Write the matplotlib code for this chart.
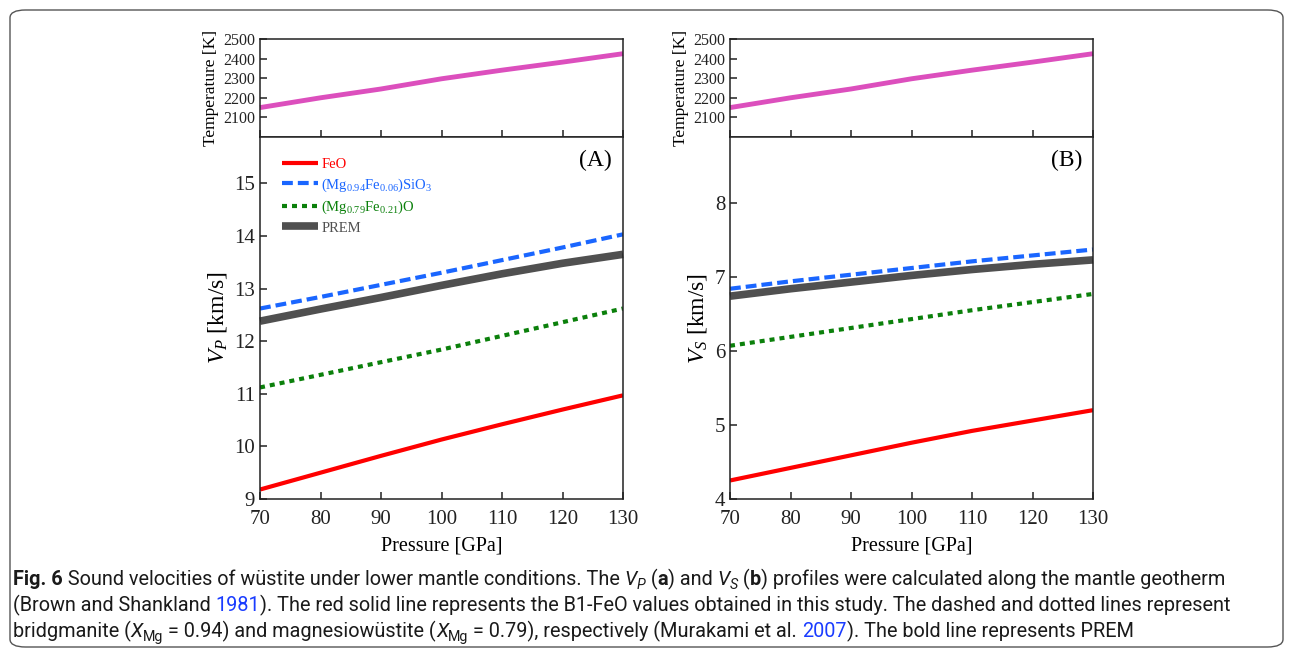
import numpy as np
import matplotlib.pyplot as plt
from matplotlib.patches import FancyBboxPatch

plt.rcParams['font.family'] = ['Liberation Serif', 'DejaVu Serif']
plt.rcParams['mathtext.fontset'] = 'custom'
plt.rcParams['mathtext.rm'] = 'Liberation Serif'
plt.rcParams['mathtext.it'] = 'Liberation Serif:italic'
plt.rcParams['mathtext.bf'] = 'Liberation Serif:bold'

# data
pressure = [70, 80, 90, 100, 110, 120, 130]
temperature = [2150, 2200, 2245, 2297, 2341, 2382, 2425]

vp_feo = [9.18, 9.50, 9.82, 10.13, 10.42, 10.70, 10.97]
vp_bdg = [12.62, 12.84, 13.07, 13.30, 13.54, 13.78, 14.03]
vp_fp = [11.12, 11.36, 11.60, 11.84, 12.10, 12.36, 12.62]
vp_prem = [12.38, 12.61, 12.83, 13.06, 13.28, 13.48, 13.65]

vs_feo = [4.25, 4.42, 4.59, 4.76, 4.92, 5.06, 5.20]
vs_bdg = [6.84, 6.94, 7.03, 7.12, 7.21, 7.29, 7.37]
vs_fp = [6.07, 6.19, 6.31, 6.43, 6.55, 6.66, 6.77]
vs_prem = [6.74, 6.84, 6.93, 7.02, 7.10, 7.17, 7.23]

labels = ['FeO', r'(Mg$_{0.94}$Fe$_{0.06}$)SiO$_3$', r'(Mg$_{0.79}$Fe$_{0.21}$)O', 'PREM']
colors = ['#ff0000', '#1a66ff', '#0b800b', '#505050']

W, H = 1293, 649
fig = plt.figure(figsize=(W / 100, H / 100), dpi=100)

def frac(x0, y0, x1, y1):
    return [x0 / W, 1 - y1 / H, (x1 - x0) / W, (y1 - y0) / H]

def style(ax, size):
    for s in ax.spines.values():
        s.set_linewidth(1.1)
        s.set_color('#222222')
    ax.tick_params(direction='in', length=5, width=1.1, labelsize=size,
                   top=False, right=False, colors='#222222')

panels = [
    (260, 623, vp_feo, vp_bdg, vp_fp, vp_prem, (9, 15.88), range(9, 16), r'$V_P$ [km/s]', '(A)'),
    (730, 1093, vs_feo, vs_bdg, vs_fp, vs_prem, (4, 8.89), range(4, 9), r'$V_S$ [km/s]', '(B)'),
]

for i, (x0, x1, feo, bdg, fp, prem, ylim, yt, ylab, tag) in enumerate(panels):
    axt = fig.add_axes(frac(x0, 39, x1, 137))
    axt.plot(pressure, temperature, color='#dc4fbd', lw=3.5, solid_capstyle='butt', clip_on=False)
    axt.set_xlim(70, 130)
    axt.set_ylim(2000, 2500)
    axt.set_yticks([2100, 2200, 2300, 2400, 2500])
    axt.set_xticks([70, 80, 90, 100, 110, 120, 130])
    axt.tick_params(labelbottom=False)
    style(axt, 11.5)
    axt.set_ylabel('Temperature [K]', fontsize=12.5, labelpad=3)

    ax = fig.add_axes(frac(x0, 137, x1, 499))
    ax.plot(pressure, feo, color=colors[0], lw=3, solid_capstyle='butt', label=labels[0])
    ax.plot(pressure, bdg, color=colors[1], lw=3, ls=(0, (2.6, 1.2)), label=labels[1])
    ax.plot(pressure, fp, color=colors[2], lw=3, ls=(0, (1.2, 1.2)), label=labels[2])
    ax.plot(pressure, prem, color=colors[3], lw=5.5, solid_capstyle='butt', label=labels[3], clip_on=False)
    ax.set_xlim(70, 130)
    ax.set_ylim(*ylim)
    ax.set_xticks([70, 80, 90, 100, 110, 120, 130])
    ax.set_yticks(list(yt))
    style(ax, 15)
    ax.tick_params(axis='x', pad=8)
    ax.set_xlabel('Pressure [GPa]', fontsize=14.5, labelpad=5)
    ax.set_ylabel(ylab, fontsize=17, labelpad=4)
    ax.text(0.97, 0.935, tag, transform=ax.transAxes, ha='right', va='center', fontsize=17)
    if i == 0:
        leg = ax.legend(loc='upper left', bbox_to_anchor=(0.028, 0.975), frameon=False,
                        fontsize=10.5, handlelength=2.5, handletextpad=0.2,
                        labelspacing=0.36, borderaxespad=0.4)
        for t, c in zip(leg.get_texts(), colors):
            t.set_color(c)

# frame round the whole figure
fig.patches.append(FancyBboxPatch((10 / W, 2 / H), 1273 / W, 637 / H,
                                  boxstyle='round,pad=0,rounding_size=0.012',
                                  transform=fig.transFigure, fill=False,
                                  ec='#555555', lw=1.0))

# caption, drawn piece by piece on a common baseline
renderer = fig.canvas.get_renderer()
cap_font = ['Roboto', 'DejaVu Sans']
cap_size = 14.3
blue = '#1a3cff'

def seg_width(txt, **kw):
    a = fig.text(0, 0, '|' + txt + '|', **kw)
    b = fig.text(0, 0, '|', **kw)
    w = a.get_window_extent(renderer).width - 2 * b.get_window_extent(renderer).width
    a.remove()
    b.remove()
    return w

def caption_line(y, pieces):
    x = 13
    for p in pieces:
        if isinstance(p, str):
            p = (p, {})
        txt, opts = p[0], dict(p[1])
        dy = opts.pop('dy', 0)
        kw = dict(family=cap_font, fontsize=cap_size * opts.pop('scale', 1), color='#1a1a1a')
        kw.update(opts)
        fig.text(x / W, 1 - (y + dy) / H, txt, va='baseline', ha='left', **kw)
        x += seg_width(txt, **kw)
    return x

sub = {'scale': 0.72, 'dy': 4}
caption_line(585, [
    ('Fig. 6', {'weight': 'bold'}),
    ' Sound velocities of wüstite under lower mantle conditions. The ',
    ('V', {'style': 'italic'}), ('P', dict(sub, style='italic')),
    ' (', ('a', {'weight': 'bold'}), ') and ',
    ('V', {'style': 'italic'}), ('S', dict(sub, style='italic')),
    ' (', ('b', {'weight': 'bold'}),
    ') profiles were calculated along the mantle geotherm',
])
caption_line(611, [
    '(Brown and Shankland ', ('1981', {'color': blue}),
    '). The red solid line represents the B1-FeO values obtained in this study. The dashed and dotted lines represent',
])
caption_line(637, [
    'bridgmanite (', ('X', {'style': 'italic'}), ('Mg', sub),
    ' = 0.94) and magnesiowüstite (', ('X', {'style': 'italic'}), ('Mg', sub),
    ' = 0.79), respectively (Murakami et al. ', ('2007', {'color': blue}),
    '). The bold line represents PREM',
])

fig.savefig('out.png', dpi=100)
